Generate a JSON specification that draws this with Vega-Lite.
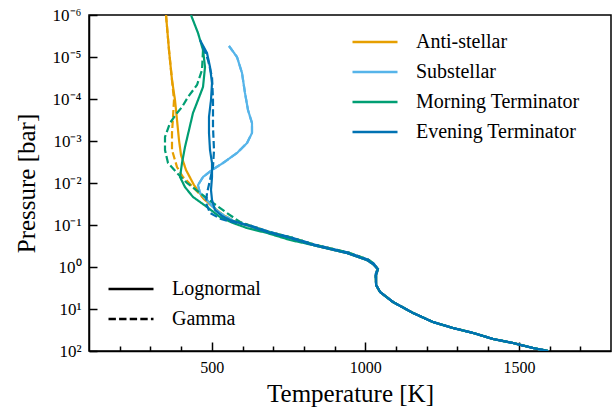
{
  "$schema": "https://vega.github.io/schema/vega-lite/v6.json",
  "width": 522,
  "height": 336,
  "autosize": "none",
  "padding": {"left": 89, "top": 15, "right": 4, "bottom": 56},
  "background": "white",
  "config": {
    "font": "Liberation Serif",
    "view": {"stroke": "#000000", "strokeWidth": 1.5},
    "axis": {
      "grid": false,
      "domainColor": "#000000",
      "domainWidth": 1.5,
      "tickColor": "#000000",
      "tickWidth": 1.5,
      "labelFont": "Liberation Serif",
      "labelFontSize": 16,
      "labelColor": "#000000",
      "titleFont": "Liberation Serif",
      "titleFontSize": 25,
      "titleFontWeight": "normal",
      "titleColor": "#000000"
    },
    "legend": {
      "labelFont": "Liberation Serif",
      "labelFontSize": 20,
      "labelColor": "#000000",
      "labelLimit": 0,
      "symbolType": "stroke",
      "symbolSize": 2025,
      "symbolStrokeWidth": 2.5,
      "clipHeight": 20,
      "rowPadding": 10,
      "labelOffset": 17,
      "padding": 0
    }
  },
  "data": {
    "values": [
      {"zone": "Anti-stellar", "model": "Lognormal", "T": 350.8, "P": 1e-6},
      {"zone": "Anti-stellar", "model": "Lognormal", "T": 360.5, "P": 6.81e-6},
      {"zone": "Anti-stellar", "model": "Lognormal", "T": 370.3, "P": 3.53e-5},
      {"zone": "Anti-stellar", "model": "Lognormal", "T": 380.1, "P": 1.06e-4},
      {"zone": "Anti-stellar", "model": "Lognormal", "T": 386.6, "P": 3.16e-4},
      {"zone": "Anti-stellar", "model": "Lognormal", "T": 393.1, "P": 9.47e-4},
      {"zone": "Anti-stellar", "model": "Lognormal", "T": 399.6, "P": 2.15e-3},
      {"zone": "Anti-stellar", "model": "Lognormal", "T": 415.9, "P": 4.9e-3},
      {"zone": "Anti-stellar", "model": "Lognormal", "T": 442.0, "P": 1.12e-2},
      {"zone": "Anti-stellar", "model": "Lognormal", "T": 474.5, "P": 2.4e-2},
      {"zone": "Anti-stellar", "model": "Lognormal", "T": 520.1, "P": 4.64e-2},
      {"zone": "Anti-stellar", "model": "Lognormal", "T": 559.2, "P": 7.6e-2},
      {"zone": "Anti-stellar", "model": "Lognormal", "T": 624, "P": 0.106},
      {"zone": "Anti-stellar", "model": "Lognormal", "T": 680, "P": 0.147},
      {"zone": "Anti-stellar", "model": "Lognormal", "T": 755, "P": 0.204},
      {"zone": "Anti-stellar", "model": "Lognormal", "T": 829, "P": 0.299},
      {"zone": "Anti-stellar", "model": "Lognormal", "T": 940, "P": 0.465},
      {"zone": "Anti-stellar", "model": "Lognormal", "T": 1005, "P": 0.681},
      {"zone": "Anti-stellar", "model": "Lognormal", "T": 1025, "P": 0.849},
      {"zone": "Anti-stellar", "model": "Lognormal", "T": 1041, "P": 1.12},
      {"zone": "Anti-stellar", "model": "Lognormal", "T": 1035, "P": 1.55},
      {"zone": "Anti-stellar", "model": "Lognormal", "T": 1035, "P": 2.69},
      {"zone": "Anti-stellar", "model": "Lognormal", "T": 1048, "P": 3.94},
      {"zone": "Anti-stellar", "model": "Lognormal", "T": 1090, "P": 6.81},
      {"zone": "Anti-stellar", "model": "Lognormal", "T": 1155, "P": 12.4},
      {"zone": "Anti-stellar", "model": "Lognormal", "T": 1220, "P": 20.4},
      {"zone": "Anti-stellar", "model": "Lognormal", "T": 1285, "P": 28.3},
      {"zone": "Anti-stellar", "model": "Lognormal", "T": 1351, "P": 37.2},
      {"zone": "Anti-stellar", "model": "Lognormal", "T": 1416, "P": 51.8},
      {"zone": "Anti-stellar", "model": "Lognormal", "T": 1481, "P": 64.6},
      {"zone": "Anti-stellar", "model": "Lognormal", "T": 1546, "P": 84.9},
      {"zone": "Anti-stellar", "model": "Lognormal", "T": 1595, "P": 100},

      {"zone": "Anti-stellar", "model": "Gamma", "T": 350.8, "P": 1e-6},
      {"zone": "Anti-stellar", "model": "Gamma", "T": 360.5, "P": 6.81e-6},
      {"zone": "Anti-stellar", "model": "Gamma", "T": 370.3, "P": 3.53e-5},
      {"zone": "Anti-stellar", "model": "Gamma", "T": 376.8, "P": 1.06e-4},
      {"zone": "Anti-stellar", "model": "Gamma", "T": 373.6, "P": 2.68e-4},
      {"zone": "Anti-stellar", "model": "Gamma", "T": 370.3, "P": 6.45e-4},
      {"zone": "Anti-stellar", "model": "Gamma", "T": 370.3, "P": 1.64e-3},
      {"zone": "Anti-stellar", "model": "Gamma", "T": 386.6, "P": 4.16e-3},
      {"zone": "Anti-stellar", "model": "Gamma", "T": 406.1, "P": 7.2e-3},
      {"zone": "Anti-stellar", "model": "Gamma", "T": 438.7, "P": 1.25e-2},
      {"zone": "Anti-stellar", "model": "Gamma", "T": 477.8, "P": 2.54e-2},
      {"zone": "Anti-stellar", "model": "Gamma", "T": 526.6, "P": 5.18e-2},
      {"zone": "Anti-stellar", "model": "Gamma", "T": 565.7, "P": 7.6e-2},
      {"zone": "Anti-stellar", "model": "Gamma", "T": 628, "P": 0.104},
      {"zone": "Anti-stellar", "model": "Gamma", "T": 685, "P": 0.144},
      {"zone": "Anti-stellar", "model": "Gamma", "T": 760, "P": 0.2},
      {"zone": "Anti-stellar", "model": "Gamma", "T": 834, "P": 0.293},
      {"zone": "Anti-stellar", "model": "Gamma", "T": 945, "P": 0.456},
      {"zone": "Anti-stellar", "model": "Gamma", "T": 1010, "P": 0.67},
      {"zone": "Anti-stellar", "model": "Gamma", "T": 1028, "P": 0.84},
      {"zone": "Anti-stellar", "model": "Gamma", "T": 1040, "P": 1.12},
      {"zone": "Anti-stellar", "model": "Gamma", "T": 1033, "P": 1.5},
      {"zone": "Anti-stellar", "model": "Gamma", "T": 1035, "P": 2.69},
      {"zone": "Anti-stellar", "model": "Gamma", "T": 1048, "P": 3.94},
      {"zone": "Anti-stellar", "model": "Gamma", "T": 1090, "P": 6.81},
      {"zone": "Anti-stellar", "model": "Gamma", "T": 1155, "P": 12.4},
      {"zone": "Anti-stellar", "model": "Gamma", "T": 1220, "P": 20.4},
      {"zone": "Anti-stellar", "model": "Gamma", "T": 1285, "P": 28.3},
      {"zone": "Anti-stellar", "model": "Gamma", "T": 1351, "P": 37.2},
      {"zone": "Anti-stellar", "model": "Gamma", "T": 1416, "P": 51.8},
      {"zone": "Anti-stellar", "model": "Gamma", "T": 1481, "P": 64.6},
      {"zone": "Anti-stellar", "model": "Gamma", "T": 1546, "P": 84.9},
      {"zone": "Anti-stellar", "model": "Gamma", "T": 1595, "P": 100},

      {"zone": "Substellar", "model": "Lognormal", "T": 555.9, "P": 5.47e-6},
      {"zone": "Substellar", "model": "Lognormal", "T": 582.0, "P": 1e-5},
      {"zone": "Substellar", "model": "Lognormal", "T": 598.3, "P": 2.4e-5},
      {"zone": "Substellar", "model": "Lognormal", "T": 608.0, "P": 7.2e-5},
      {"zone": "Substellar", "model": "Lognormal", "T": 617.8, "P": 1.83e-4},
      {"zone": "Substellar", "model": "Lognormal", "T": 630.8, "P": 3.73e-4},
      {"zone": "Substellar", "model": "Lognormal", "T": 630.8, "P": 6.45e-4},
      {"zone": "Substellar", "model": "Lognormal", "T": 614.6, "P": 1.12e-3},
      {"zone": "Substellar", "model": "Lognormal", "T": 582.0, "P": 1.93e-3},
      {"zone": "Substellar", "model": "Lognormal", "T": 536.4, "P": 3.34e-3},
      {"zone": "Substellar", "model": "Lognormal", "T": 500.6, "P": 4.9e-3},
      {"zone": "Substellar", "model": "Lognormal", "T": 471.3, "P": 7.2e-3},
      {"zone": "Substellar", "model": "Lognormal", "T": 455.0, "P": 1.12e-2},
      {"zone": "Substellar", "model": "Lognormal", "T": 461.5, "P": 1.73e-2},
      {"zone": "Substellar", "model": "Lognormal", "T": 484.3, "P": 2.54e-2},
      {"zone": "Substellar", "model": "Lognormal", "T": 503.8, "P": 3.73e-2},
      {"zone": "Substellar", "model": "Lognormal", "T": 526.6, "P": 5.18e-2},
      {"zone": "Substellar", "model": "Lognormal", "T": 559.2, "P": 7.6e-2},
      {"zone": "Substellar", "model": "Lognormal", "T": 624, "P": 0.106},
      {"zone": "Substellar", "model": "Lognormal", "T": 680, "P": 0.147},
      {"zone": "Substellar", "model": "Lognormal", "T": 755, "P": 0.204},
      {"zone": "Substellar", "model": "Lognormal", "T": 829, "P": 0.299},
      {"zone": "Substellar", "model": "Lognormal", "T": 940, "P": 0.465},
      {"zone": "Substellar", "model": "Lognormal", "T": 1005, "P": 0.681},
      {"zone": "Substellar", "model": "Lognormal", "T": 1025, "P": 0.849},
      {"zone": "Substellar", "model": "Lognormal", "T": 1041, "P": 1.12},
      {"zone": "Substellar", "model": "Lognormal", "T": 1035, "P": 1.55},
      {"zone": "Substellar", "model": "Lognormal", "T": 1035, "P": 2.69},
      {"zone": "Substellar", "model": "Lognormal", "T": 1048, "P": 3.94},
      {"zone": "Substellar", "model": "Lognormal", "T": 1090, "P": 6.81},
      {"zone": "Substellar", "model": "Lognormal", "T": 1155, "P": 12.4},
      {"zone": "Substellar", "model": "Lognormal", "T": 1220, "P": 20.4},
      {"zone": "Substellar", "model": "Lognormal", "T": 1285, "P": 28.3},
      {"zone": "Substellar", "model": "Lognormal", "T": 1351, "P": 37.2},
      {"zone": "Substellar", "model": "Lognormal", "T": 1416, "P": 51.8},
      {"zone": "Substellar", "model": "Lognormal", "T": 1481, "P": 64.6},
      {"zone": "Substellar", "model": "Lognormal", "T": 1546, "P": 84.9},
      {"zone": "Substellar", "model": "Lognormal", "T": 1595, "P": 100},

      {"zone": "Substellar", "model": "Gamma", "T": 555.9, "P": 5.47e-6},
      {"zone": "Substellar", "model": "Gamma", "T": 582.0, "P": 1e-5},
      {"zone": "Substellar", "model": "Gamma", "T": 598.3, "P": 2.4e-5},
      {"zone": "Substellar", "model": "Gamma", "T": 608.0, "P": 7.2e-5},
      {"zone": "Substellar", "model": "Gamma", "T": 617.8, "P": 1.83e-4},
      {"zone": "Substellar", "model": "Gamma", "T": 630.8, "P": 3.73e-4},
      {"zone": "Substellar", "model": "Gamma", "T": 630.8, "P": 6.45e-4},
      {"zone": "Substellar", "model": "Gamma", "T": 614.6, "P": 1.12e-3},
      {"zone": "Substellar", "model": "Gamma", "T": 582.0, "P": 1.93e-3},
      {"zone": "Substellar", "model": "Gamma", "T": 536.4, "P": 3.34e-3},
      {"zone": "Substellar", "model": "Gamma", "T": 500.6, "P": 4.9e-3},
      {"zone": "Substellar", "model": "Gamma", "T": 471.3, "P": 7.2e-3},
      {"zone": "Substellar", "model": "Gamma", "T": 455.0, "P": 1.12e-2},
      {"zone": "Substellar", "model": "Gamma", "T": 461.5, "P": 1.73e-2},
      {"zone": "Substellar", "model": "Gamma", "T": 484.3, "P": 2.54e-2},
      {"zone": "Substellar", "model": "Gamma", "T": 503.8, "P": 3.73e-2},
      {"zone": "Substellar", "model": "Gamma", "T": 526.6, "P": 5.18e-2},
      {"zone": "Substellar", "model": "Gamma", "T": 565.7, "P": 7.6e-2},
      {"zone": "Substellar", "model": "Gamma", "T": 628, "P": 0.104},
      {"zone": "Substellar", "model": "Gamma", "T": 685, "P": 0.144},
      {"zone": "Substellar", "model": "Gamma", "T": 760, "P": 0.2},
      {"zone": "Substellar", "model": "Gamma", "T": 834, "P": 0.293},
      {"zone": "Substellar", "model": "Gamma", "T": 945, "P": 0.456},
      {"zone": "Substellar", "model": "Gamma", "T": 1010, "P": 0.67},
      {"zone": "Substellar", "model": "Gamma", "T": 1028, "P": 0.84},
      {"zone": "Substellar", "model": "Gamma", "T": 1040, "P": 1.12},
      {"zone": "Substellar", "model": "Gamma", "T": 1033, "P": 1.5},
      {"zone": "Substellar", "model": "Gamma", "T": 1035, "P": 2.69},
      {"zone": "Substellar", "model": "Gamma", "T": 1048, "P": 3.94},
      {"zone": "Substellar", "model": "Gamma", "T": 1090, "P": 6.81},
      {"zone": "Substellar", "model": "Gamma", "T": 1155, "P": 12.4},
      {"zone": "Substellar", "model": "Gamma", "T": 1220, "P": 20.4},
      {"zone": "Substellar", "model": "Gamma", "T": 1285, "P": 28.3},
      {"zone": "Substellar", "model": "Gamma", "T": 1351, "P": 37.2},
      {"zone": "Substellar", "model": "Gamma", "T": 1416, "P": 51.8},
      {"zone": "Substellar", "model": "Gamma", "T": 1481, "P": 64.6},
      {"zone": "Substellar", "model": "Gamma", "T": 1546, "P": 84.9},
      {"zone": "Substellar", "model": "Gamma", "T": 1595, "P": 100},

      {"zone": "Morning Terminator", "model": "Lognormal", "T": 432.2, "P": 1e-6},
      {"zone": "Morning Terminator", "model": "Lognormal", "T": 455.0, "P": 2.68e-6},
      {"zone": "Morning Terminator", "model": "Lognormal", "T": 471.3, "P": 6.81e-6},
      {"zone": "Morning Terminator", "model": "Lognormal", "T": 477.8, "P": 1.73e-5},
      {"zone": "Morning Terminator", "model": "Lognormal", "T": 471.3, "P": 5.18e-5},
      {"zone": "Morning Terminator", "model": "Lognormal", "T": 455.0, "P": 1.06e-4},
      {"zone": "Morning Terminator", "model": "Lognormal", "T": 438.7, "P": 2.15e-4},
      {"zone": "Morning Terminator", "model": "Lognormal", "T": 425.7, "P": 5.47e-4},
      {"zone": "Morning Terminator", "model": "Lognormal", "T": 412.6, "P": 1.39e-3},
      {"zone": "Morning Terminator", "model": "Lognormal", "T": 402.9, "P": 3.34e-3},
      {"zone": "Morning Terminator", "model": "Lognormal", "T": 396.4, "P": 7.2e-3},
      {"zone": "Morning Terminator", "model": "Lognormal", "T": 412.6, "P": 1.25e-2},
      {"zone": "Morning Terminator", "model": "Lognormal", "T": 438.7, "P": 2.15e-2},
      {"zone": "Morning Terminator", "model": "Lognormal", "T": 484.3, "P": 3.73e-2},
      {"zone": "Morning Terminator", "model": "Lognormal", "T": 526.6, "P": 6.45e-2},
      {"zone": "Morning Terminator", "model": "Lognormal", "T": 569.0, "P": 8.96e-2},
      {"zone": "Morning Terminator", "model": "Lognormal", "T": 614.6, "P": 0.118},
      {"zone": "Morning Terminator", "model": "Lognormal", "T": 680, "P": 0.155},
      {"zone": "Morning Terminator", "model": "Lognormal", "T": 755, "P": 0.228},
      {"zone": "Morning Terminator", "model": "Lognormal", "T": 829, "P": 0.299},
      {"zone": "Morning Terminator", "model": "Lognormal", "T": 940, "P": 0.465},
      {"zone": "Morning Terminator", "model": "Lognormal", "T": 1005, "P": 0.681},
      {"zone": "Morning Terminator", "model": "Lognormal", "T": 1025, "P": 0.849},
      {"zone": "Morning Terminator", "model": "Lognormal", "T": 1041, "P": 1.12},
      {"zone": "Morning Terminator", "model": "Lognormal", "T": 1035, "P": 1.55},
      {"zone": "Morning Terminator", "model": "Lognormal", "T": 1035, "P": 2.69},
      {"zone": "Morning Terminator", "model": "Lognormal", "T": 1048, "P": 3.94},
      {"zone": "Morning Terminator", "model": "Lognormal", "T": 1090, "P": 6.81},
      {"zone": "Morning Terminator", "model": "Lognormal", "T": 1155, "P": 12.4},
      {"zone": "Morning Terminator", "model": "Lognormal", "T": 1220, "P": 20.4},
      {"zone": "Morning Terminator", "model": "Lognormal", "T": 1285, "P": 28.3},
      {"zone": "Morning Terminator", "model": "Lognormal", "T": 1351, "P": 37.2},
      {"zone": "Morning Terminator", "model": "Lognormal", "T": 1416, "P": 51.8},
      {"zone": "Morning Terminator", "model": "Lognormal", "T": 1481, "P": 64.6},
      {"zone": "Morning Terminator", "model": "Lognormal", "T": 1546, "P": 84.9},
      {"zone": "Morning Terminator", "model": "Lognormal", "T": 1595, "P": 100},

      {"zone": "Morning Terminator", "model": "Gamma", "T": 471.3, "P": 6.81e-6},
      {"zone": "Morning Terminator", "model": "Gamma", "T": 468.0, "P": 2.04e-5},
      {"zone": "Morning Terminator", "model": "Gamma", "T": 451.7, "P": 4.64e-5},
      {"zone": "Morning Terminator", "model": "Gamma", "T": 422.4, "P": 8.96e-5},
      {"zone": "Morning Terminator", "model": "Gamma", "T": 402.9, "P": 1.55e-4},
      {"zone": "Morning Terminator", "model": "Gamma", "T": 386.6, "P": 2.15e-4},
      {"zone": "Morning Terminator", "model": "Gamma", "T": 363.8, "P": 3.73e-4},
      {"zone": "Morning Terminator", "model": "Gamma", "T": 347.5, "P": 8.03e-4},
      {"zone": "Morning Terminator", "model": "Gamma", "T": 347.5, "P": 1.64e-3},
      {"zone": "Morning Terminator", "model": "Gamma", "T": 357.3, "P": 3.34e-3},
      {"zone": "Morning Terminator", "model": "Gamma", "T": 386.6, "P": 5.78e-3},
      {"zone": "Morning Terminator", "model": "Gamma", "T": 419.2, "P": 1e-2},
      {"zone": "Morning Terminator", "model": "Gamma", "T": 461.5, "P": 1.73e-2},
      {"zone": "Morning Terminator", "model": "Gamma", "T": 503.8, "P": 2.99e-2},
      {"zone": "Morning Terminator", "model": "Gamma", "T": 549.4, "P": 5.18e-2},
      {"zone": "Morning Terminator", "model": "Gamma", "T": 592, "P": 8.48e-2},
      {"zone": "Morning Terminator", "model": "Gamma", "T": 640, "P": 0.115},
      {"zone": "Morning Terminator", "model": "Gamma", "T": 690, "P": 0.15},
      {"zone": "Morning Terminator", "model": "Gamma", "T": 760, "P": 0.2},
      {"zone": "Morning Terminator", "model": "Gamma", "T": 834, "P": 0.293},
      {"zone": "Morning Terminator", "model": "Gamma", "T": 945, "P": 0.456},
      {"zone": "Morning Terminator", "model": "Gamma", "T": 1010, "P": 0.67},
      {"zone": "Morning Terminator", "model": "Gamma", "T": 1028, "P": 0.84},
      {"zone": "Morning Terminator", "model": "Gamma", "T": 1040, "P": 1.12},
      {"zone": "Morning Terminator", "model": "Gamma", "T": 1033, "P": 1.5},
      {"zone": "Morning Terminator", "model": "Gamma", "T": 1035, "P": 2.69},
      {"zone": "Morning Terminator", "model": "Gamma", "T": 1048, "P": 3.94},
      {"zone": "Morning Terminator", "model": "Gamma", "T": 1090, "P": 6.81},
      {"zone": "Morning Terminator", "model": "Gamma", "T": 1155, "P": 12.4},
      {"zone": "Morning Terminator", "model": "Gamma", "T": 1220, "P": 20.4},
      {"zone": "Morning Terminator", "model": "Gamma", "T": 1285, "P": 28.3},
      {"zone": "Morning Terminator", "model": "Gamma", "T": 1351, "P": 37.2},
      {"zone": "Morning Terminator", "model": "Gamma", "T": 1416, "P": 51.8},
      {"zone": "Morning Terminator", "model": "Gamma", "T": 1481, "P": 64.6},
      {"zone": "Morning Terminator", "model": "Gamma", "T": 1546, "P": 84.9},
      {"zone": "Morning Terminator", "model": "Gamma", "T": 1595, "P": 100},

      {"zone": "Evening Terminator", "model": "Lognormal", "T": 461.5, "P": 3.94e-6},
      {"zone": "Evening Terminator", "model": "Lognormal", "T": 484.3, "P": 8.03e-6},
      {"zone": "Evening Terminator", "model": "Lognormal", "T": 494.1, "P": 1.73e-5},
      {"zone": "Evening Terminator", "model": "Lognormal", "T": 500.6, "P": 4.16e-5},
      {"zone": "Evening Terminator", "model": "Lognormal", "T": 497.3, "P": 1.06e-4},
      {"zone": "Evening Terminator", "model": "Lognormal", "T": 490.8, "P": 2.68e-4},
      {"zone": "Evening Terminator", "model": "Lognormal", "T": 490.8, "P": 6.45e-4},
      {"zone": "Evening Terminator", "model": "Lognormal", "T": 494.1, "P": 1.64e-3},
      {"zone": "Evening Terminator", "model": "Lognormal", "T": 500.6, "P": 3.34e-3},
      {"zone": "Evening Terminator", "model": "Lognormal", "T": 500.6, "P": 7.2e-3},
      {"zone": "Evening Terminator", "model": "Lognormal", "T": 497.3, "P": 1.47e-2},
      {"zone": "Evening Terminator", "model": "Lognormal", "T": 500.6, "P": 2.54e-2},
      {"zone": "Evening Terminator", "model": "Lognormal", "T": 510.3, "P": 4.39e-2},
      {"zone": "Evening Terminator", "model": "Lognormal", "T": 533.1, "P": 6.11e-2},
      {"zone": "Evening Terminator", "model": "Lognormal", "T": 559.2, "P": 7.6e-2},
      {"zone": "Evening Terminator", "model": "Lognormal", "T": 624, "P": 0.106},
      {"zone": "Evening Terminator", "model": "Lognormal", "T": 680, "P": 0.147},
      {"zone": "Evening Terminator", "model": "Lognormal", "T": 755, "P": 0.204},
      {"zone": "Evening Terminator", "model": "Lognormal", "T": 829, "P": 0.299},
      {"zone": "Evening Terminator", "model": "Lognormal", "T": 940, "P": 0.465},
      {"zone": "Evening Terminator", "model": "Lognormal", "T": 1005, "P": 0.681},
      {"zone": "Evening Terminator", "model": "Lognormal", "T": 1025, "P": 0.849},
      {"zone": "Evening Terminator", "model": "Lognormal", "T": 1041, "P": 1.12},
      {"zone": "Evening Terminator", "model": "Lognormal", "T": 1035, "P": 1.55},
      {"zone": "Evening Terminator", "model": "Lognormal", "T": 1035, "P": 2.69},
      {"zone": "Evening Terminator", "model": "Lognormal", "T": 1048, "P": 3.94},
      {"zone": "Evening Terminator", "model": "Lognormal", "T": 1090, "P": 6.81},
      {"zone": "Evening Terminator", "model": "Lognormal", "T": 1155, "P": 12.4},
      {"zone": "Evening Terminator", "model": "Lognormal", "T": 1220, "P": 20.4},
      {"zone": "Evening Terminator", "model": "Lognormal", "T": 1285, "P": 28.3},
      {"zone": "Evening Terminator", "model": "Lognormal", "T": 1351, "P": 37.2},
      {"zone": "Evening Terminator", "model": "Lognormal", "T": 1416, "P": 51.8},
      {"zone": "Evening Terminator", "model": "Lognormal", "T": 1481, "P": 64.6},
      {"zone": "Evening Terminator", "model": "Lognormal", "T": 1546, "P": 84.9},
      {"zone": "Evening Terminator", "model": "Lognormal", "T": 1595, "P": 100},

      {"zone": "Evening Terminator", "model": "Gamma", "T": 471.3, "P": 5.78e-6},
      {"zone": "Evening Terminator", "model": "Gamma", "T": 487.5, "P": 1.18e-5},
      {"zone": "Evening Terminator", "model": "Gamma", "T": 500.6, "P": 2.99e-5},
      {"zone": "Evening Terminator", "model": "Gamma", "T": 503.8, "P": 1.06e-4},
      {"zone": "Evening Terminator", "model": "Gamma", "T": 503.8, "P": 4.64e-4},
      {"zone": "Evening Terminator", "model": "Gamma", "T": 507.1, "P": 1.64e-3},
      {"zone": "Evening Terminator", "model": "Gamma", "T": 503.8, "P": 4.16e-3},
      {"zone": "Evening Terminator", "model": "Gamma", "T": 494.1, "P": 8.48e-3},
      {"zone": "Evening Terminator", "model": "Gamma", "T": 484.3, "P": 1.73e-2},
      {"zone": "Evening Terminator", "model": "Gamma", "T": 481.0, "P": 2.99e-2},
      {"zone": "Evening Terminator", "model": "Gamma", "T": 494.1, "P": 5.18e-2},
      {"zone": "Evening Terminator", "model": "Gamma", "T": 530, "P": 7.2e-2},
      {"zone": "Evening Terminator", "model": "Gamma", "T": 567, "P": 8.5e-2},
      {"zone": "Evening Terminator", "model": "Gamma", "T": 628, "P": 0.104},
      {"zone": "Evening Terminator", "model": "Gamma", "T": 685, "P": 0.144},
      {"zone": "Evening Terminator", "model": "Gamma", "T": 760, "P": 0.2},
      {"zone": "Evening Terminator", "model": "Gamma", "T": 834, "P": 0.293},
      {"zone": "Evening Terminator", "model": "Gamma", "T": 945, "P": 0.456},
      {"zone": "Evening Terminator", "model": "Gamma", "T": 1010, "P": 0.67},
      {"zone": "Evening Terminator", "model": "Gamma", "T": 1028, "P": 0.84},
      {"zone": "Evening Terminator", "model": "Gamma", "T": 1040, "P": 1.12},
      {"zone": "Evening Terminator", "model": "Gamma", "T": 1033, "P": 1.5},
      {"zone": "Evening Terminator", "model": "Gamma", "T": 1035, "P": 2.69},
      {"zone": "Evening Terminator", "model": "Gamma", "T": 1048, "P": 3.94},
      {"zone": "Evening Terminator", "model": "Gamma", "T": 1090, "P": 6.81},
      {"zone": "Evening Terminator", "model": "Gamma", "T": 1155, "P": 12.4},
      {"zone": "Evening Terminator", "model": "Gamma", "T": 1220, "P": 20.4},
      {"zone": "Evening Terminator", "model": "Gamma", "T": 1285, "P": 28.3},
      {"zone": "Evening Terminator", "model": "Gamma", "T": 1351, "P": 37.2},
      {"zone": "Evening Terminator", "model": "Gamma", "T": 1416, "P": 51.8},
      {"zone": "Evening Terminator", "model": "Gamma", "T": 1481, "P": 64.6},
      {"zone": "Evening Terminator", "model": "Gamma", "T": 1546, "P": 84.9},
      {"zone": "Evening Terminator", "model": "Gamma", "T": 1595, "P": 100}
    ]
  },
  "mark": {"type": "line", "strokeWidth": 2.2, "clip": true},
  "encoding": {
    "x": {
      "field": "T",
      "type": "quantitative",
      "scale": {"domain": [100, 1800], "nice": false, "zero": false},
      "axis": {
        "title": "Temperature [K]",
        "values": [200, 300, 400, 500, 600, 700, 800, 900, 1000, 1100, 1200, 1300, 1400, 1500, 1600, 1700],
        "format": "d",
        "labelExpr": "datum.value % 500 === 0 ? datum.label : ''",
        "labelFont": "Liberation Serif",
        "labelFontSize": 16,
        "tickSize": {"condition": {"test": "datum.value % 500 === 0", "value": -9}, "value": -5},
        "labelPadding": 17,
        "labelFlush": false,
        "titlePadding": 6,
        "titleFont": "Liberation Serif"
      }
    },
    "y": {
      "field": "P",
      "type": "quantitative",
      "scale": {"type": "log", "domain": [1e-6, 100], "reverse": true, "nice": false},
      "axis": {
        "title": "Pressure [bar]",
        "values": [1e-6, 1e-5, 1e-4, 1e-3, 1e-2, 1e-1, 1, 10, 100],
        "labelExpr": "['10⁻⁶','10⁻⁵','10⁻⁴','10⁻³','10⁻²','10⁻¹','10⁰','10¹','10²'][round(log(datum.value)/LN10)+6]",
        "labelFont": "Liberation Serif",
        "labelFontSize": 17,
        "tickSize": -8,
        "labelPadding": 16,
        "labelFlush": false,
        "titlePadding": 13,
        "titleFont": "Liberation Serif"
      }
    },
    "color": {
      "field": "zone",
      "type": "nominal",
      "scale": {
        "domain": ["Anti-stellar", "Substellar", "Morning Terminator", "Evening Terminator"],
        "range": ["#E69F00", "#56B4E9", "#009E73", "#0072B2"]
      },
      "legend": {"title": null, "orient": "none", "legendX": 262, "legendY": 17}
    },
    "strokeDash": {
      "field": "model",
      "type": "nominal",
      "scale": {"domain": ["Lognormal", "Gamma"], "range": [[1, 0], [7.4, 3.2]]},
      "legend": {
        "title": null,
        "orient": "none",
        "legendX": 18,
        "legendY": 264,
        "symbolStrokeColor": "#000000",
        "encode": {
          "symbols": {
            "update": {
              "strokeDash": {"signal": "datum.value === 'Gamma' ? [12, 5] : [1, 0]"}
            }
          }
        }
      }
    },
    "order": {"field": "P", "type": "quantitative"}
  }
}
